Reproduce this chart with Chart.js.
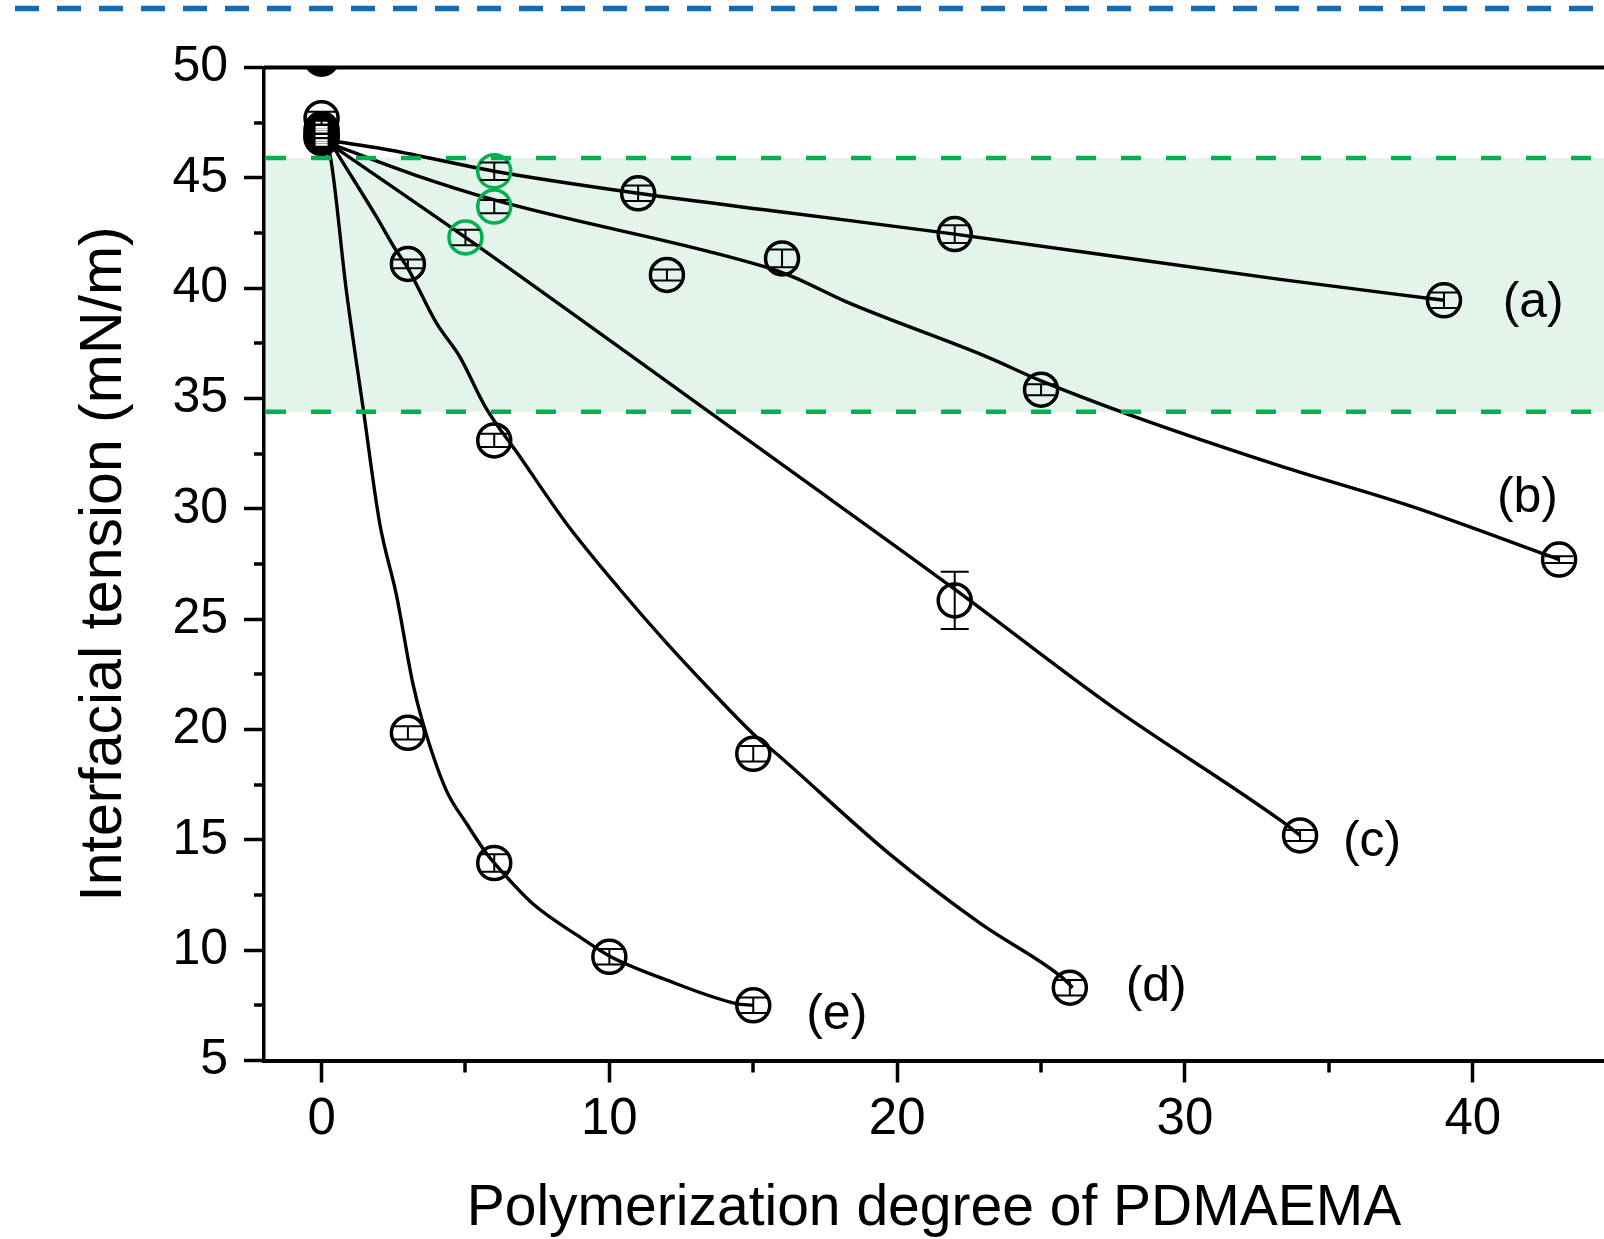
<!DOCTYPE html>
<html><head><meta charset="utf-8">
<script src="https://cdn.jsdelivr.net/npm/chart.js@4/dist/chart.umd.min.js"></script>
<style>html,body{margin:0;padding:0;background:#fff;overflow:hidden}#wrap{width:1604px;height:1239px;position:relative}</style>
</head><body><div id="wrap"><canvas id="c" width="1604" height="1239"></canvas></div>
<script>
// ---------------- data ----------------
const seriesNames = ['(a)', '(b)', '(c)', '(d)', '(e)'];

// measured points
const aX = [0, 6, 11, 22, 39];
const aY = [46.8, 45.3, 44.3, 42.45, 39.45];
const aErr = [0.3, 0.4, 0.35, 0.4, 0.35];
const aGreen = [0, 1, 0, 0, 0];

const bX = [0, 6, 12, 16, 25, 43];
const bY = [47.0, 43.7, 40.6, 41.35, 35.4, 27.7];
const bErr = [0.3, 0.3, 0.25, 0.4, 0.25, 0.15];
const bGreen = [0, 1, 0, 0, 0, 0];

const cX = [0, 5, 22, 34];
const cY = [47.2, 42.3, 25.85, 15.2];
const cErr = [0.3, 0.35, 1.3, 0.25];
const cGreen = [0, 1, 0, 0];

const dX = [0, 3, 6, 15, 26];
const dY = [47.7, 41.1, 33.1, 18.9, 8.3];
const dErr = [0.3, 0.2, 0.3, 0.35, 0.35];
const dGreen = [0, 0, 0, 0, 0];

const eX = [0, 3, 6, 10, 15];
const eY = [46.9, 19.85, 13.95, 9.7, 7.5];
const eErr = [0.3, 0.3, 0.4, 0.35, 0.35];
const eGreen = [0, 0, 0, 0, 0];

// point above the axis range (only its lower part is visible)
const offScaleX = [0];
const offScaleY = [50.4];

// fitted curves
const aFitX = [0, 2.4, 6, 11, 16, 22, 33.3, 39];
const aFitY = [46.75, 46.25, 45.3, 44.3, 43.45, 42.45, 40.4, 39.45];
const bFitX = [0, 3.2, 6, 15.45, 16.4, 18.2, 23.1, 25, 28.1, 33.3, 37.9, 43];
const bFitY = [46.7, 45.15, 44.0, 40.95, 40.5, 39.4, 36.9, 35.8, 34.25, 31.95, 30.1, 27.7];
const cFitX = [0, 5, 10.1, 15.9, 21.9, 27.5, 33.3, 34];
const cFitY = [46.8, 42.3, 37.55, 32.1, 26.45, 21.0, 15.9, 15.2];
const dFitX = [0, 0.6, 1.9, 2.5, 3.0, 4.0, 4.8, 5.7, 6.9, 8.5, 10.4, 11.9, 13.5, 15.0, 15.9, 19.7, 22.9, 25.7, 26.1];
const dFitY = [47.3, 46.0, 43.25, 41.9, 40.9, 38.4, 36.9, 34.6, 32.35, 29.35, 26.3, 24.05, 21.8, 19.8, 18.8, 14.4, 11.2, 8.8, 8.3];
const eFitX = [0, 0.3, 0.86, 1.44, 2.02, 2.6, 3.17, 3.52, 4.33, 5.03, 5.72, 6.0, 7.34, 8.97, 10.05, 11.98, 14.41, 15.0];
const eFitY = [46.8, 46.0, 39.9, 34.6, 29.35, 26.1, 22.1, 20.3, 17.25, 15.75, 14.4, 13.95, 12.1, 10.6, 9.7, 8.65, 7.58, 7.5];

// series label anchors (data units)
const labelX = [42.1, 41.9, 36.5, 29.0, 17.9];
const labelY = [39.3, 30.5, 14.9, 8.3, 7.05];

// highlighted range (mN/m)
const refBand = [34.4, 45.9];

// axes
const xRange = [-2, 44.56];
const yRange = [5, 50];
const xMajorStep = 10, yMajorStep = 5;

// ---------------- build ----------------
const BLACK = '#000000';
const GREEN = '#00b050';
const CLEAR = 'rgba(0,0,0,0)';
const FONT = "'Liberation Sans', Arial, sans-serif";

const markerSeries = [
  {x: aX, y: aY, err: aErr, green: aGreen},
  {x: bX, y: bY, err: bErr, green: bGreen},
  {x: cX, y: cY, err: cErr, green: cGreen},
  {x: dX, y: dY, err: dErr, green: dGreen},
  {x: eX, y: eY, err: eErr, green: eGreen}
];
const fitSeries = [[aFitX, aFitY], [bFitX, bFitY], [cFitX, cFitY], [dFitX, dFitY], [eFitX, eFitY]];

const zip = (xs, ys) => xs.map((v, i) => ({x: v, y: ys[i]}));

// the crowded x = 0 markers merge into a dark blob in the original; only the topmost one stays open
const topAtZero = Math.max(...markerSeries.map(s => s.y[s.x.indexOf(0)]));

const datasets = [];
markerSeries.forEach((s, i) => {
  datasets.push({
    label: seriesNames[i] + ' data',
    data: zip(s.x, s.y),
    showLine: false,
    pointRadius: 16.5,
    pointBorderWidth: 3.5,
    pointBackgroundColor: s.x.map((xv, j) => (xv === 0 && s.y[j] < topAtZero) ? BLACK : CLEAR),
    pointBorderColor: s.green.map(g => g ? GREEN : BLACK),
    order: 1
  });
});
datasets.push({
  label: 'off-scale',
  data: zip(offScaleX, offScaleY),
  showLine: false,
  pointRadius: 16.5,
  pointBorderWidth: 3.5,
  pointBackgroundColor: BLACK,
  pointBorderColor: BLACK,
  clip: {top: 0, left: 0, right: 0, bottom: 0},
  order: 1
});
fitSeries.forEach((f, i) => {
  datasets.push({
    label: seriesNames[i] + ' fit',
    data: zip(f[0], f[1]),
    showLine: true,
    borderColor: BLACK,
    borderWidth: 3.4,
    pointRadius: 0,
    cubicInterpolationMode: 'monotone',
    fill: false,
    order: 2
  });
});

const deco = {
  id: 'deco',
  beforeDatasetsDraw(chart) {
    const {ctx, chartArea: ca, scales: {y}} = chart;
    const yHi = y.getPixelForValue(refBand[1]);
    const yLo = y.getPixelForValue(refBand[0]);
    ctx.save();
    ctx.fillStyle = '#e3f4ea';
    ctx.fillRect(ca.left + 2, yHi, ca.right - ca.left - 2, yLo - yHi);
    ctx.restore();
  },
  afterDatasetsDraw(chart) {
    const {ctx, chartArea: ca, scales: {x, y}} = chart;
    ctx.save();
    // band borders
    ctx.strokeStyle = GREEN;
    ctx.lineWidth = 4.5;
    ctx.setLineDash([20, 25]);
    refBand.forEach(v => {
      const py = y.getPixelForValue(v);
      ctx.beginPath();
      ctx.moveTo(ca.left + 2, py);
      ctx.lineTo(ca.right, py);
      ctx.stroke();
    });
    ctx.setLineDash([]);
    // error bars (white inside filled markers)
    ctx.lineWidth = 2;
    markerSeries.forEach(s => {
      s.x.forEach((xv, j) => {
        const e = s.err[j];
        if (!e) return;
        ctx.strokeStyle = (xv === 0 && s.y[j] < topAtZero) ? '#ffffff' : BLACK;
        const px = x.getPixelForValue(xv);
        const pt = y.getPixelForValue(s.y[j] + e);
        const pb = y.getPixelForValue(s.y[j] - e);
        const cap = (xv === 0 && s.y[j] < topAtZero) ? 6 : 14;
        ctx.beginPath();
        if (!(xv === 0 && s.y[j] < topAtZero)) { ctx.moveTo(px, pt); ctx.lineTo(px, pb); }
        ctx.moveTo(px - cap, pt); ctx.lineTo(px + cap, pt);
        ctx.moveTo(px - cap, pb); ctx.lineTo(px + cap, pb);
        ctx.stroke();
      });
    });
    // series labels
    ctx.fillStyle = BLACK;
    ctx.font = '50px ' + FONT;
    ctx.textAlign = 'center';
    ctx.textBaseline = 'middle';
    seriesNames.forEach((n, i) => {
      ctx.fillText(n, x.getPixelForValue(labelX[i]), y.getPixelForValue(labelY[i]));
    });
    // minor ticks
    ctx.strokeStyle = BLACK;
    ctx.lineWidth = 3.5;
    ctx.beginPath();
    for (let v = xMajorStep / 2; v < xRange[1]; v += xMajorStep) {
      const px = Math.round(x.getPixelForValue(v));
      ctx.moveTo(px, ca.bottom); ctx.lineTo(px, ca.bottom + 12);
    }
    for (let v = yRange[0] + yMajorStep / 2; v < yRange[1]; v += yMajorStep) {
      const py = Math.round(y.getPixelForValue(v));
      ctx.moveTo(ca.left, py); ctx.lineTo(ca.left - 10, py);
    }
    ctx.stroke();
    // top frame line
    ctx.lineWidth = 4;
    ctx.beginPath();
    ctx.moveTo(ca.left, ca.top); ctx.lineTo(ca.right, ca.top);
    ctx.stroke();
    ctx.restore();
  },
  afterDraw(chart) {
    const {ctx, width} = chart;
    ctx.save();
    ctx.strokeStyle = '#106bb9';
    ctx.lineWidth = 5.5;
    ctx.setLineDash([24, 18]);
    ctx.beginPath();
    ctx.moveTo(15, 8.5); ctx.lineTo(width, 8.5);
    ctx.stroke();
    ctx.restore();
  }
};

new Chart(document.getElementById('c'), {
  type: 'scatter',
  data: {datasets},
  options: {
    responsive: false,
    animation: false,
    devicePixelRatio: 1,
    events: [],
    layout: {autoPadding: false, padding: {top: 67.5, right: 0, bottom: 0, left: 0}},
    plugins: {legend: {display: false}, tooltip: {enabled: false}},
    scales: {
      x: {
        type: 'linear',
        min: xRange[0], max: xRange[1],
        afterFit(s) { s.height = 178.5; s.paddingLeft = 0; s.paddingRight = 0; },
        border: {display: true, color: BLACK, width: 4},
        grid: {display: true, drawOnChartArea: false, drawTicks: true, tickLength: 22, tickWidth: 3.5, tickColor: BLACK},
        ticks: {stepSize: xMajorStep, includeBounds: false, color: BLACK, padding: 7, maxRotation: 0,
                font: {family: FONT, size: 51}},
        title: {display: true, text: 'Polymerization degree of PDMAEMA', color: BLACK,
                font: {family: FONT, size: 57, lineHeight: 1}, padding: {top: 0, bottom: 1}}
      },
      y: {
        type: 'linear',
        min: yRange[0], max: yRange[1],
        afterFit(s) { s.width = 264; s.paddingTop = 0; s.paddingBottom = 0; },
        border: {display: true, color: BLACK, width: 3.5},
        grid: {display: true, drawOnChartArea: false, drawTicks: true, tickLength: 20, tickWidth: 3.5, tickColor: BLACK},
        ticks: {stepSize: yMajorStep, color: BLACK, padding: 16, font: {family: FONT, size: 50}},
        title: {display: true, text: 'Interfacial tension (mN/m)', color: BLACK,
                font: {family: FONT, size: 59, lineHeight: 1}, padding: {top: 75, bottom: 0}}
      }
    }
  },
  plugins: [deco]
});
</script></body></html>
